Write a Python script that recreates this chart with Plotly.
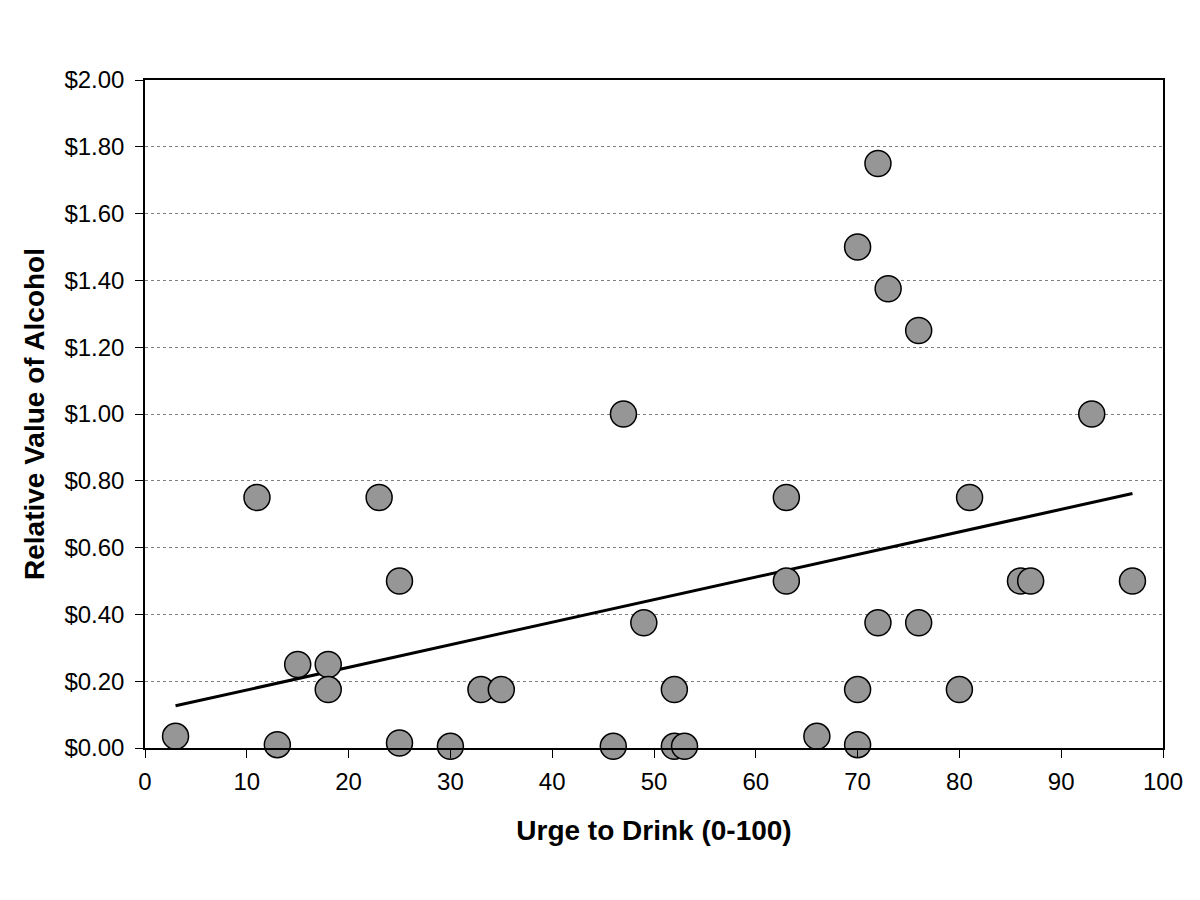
import numpy as np
import plotly.graph_objects as go

urge = [3, 11, 13, 15, 18, 18, 23, 25, 25, 30, 33, 35, 46, 47, 49, 52, 52, 53,
        63, 63, 66, 70, 70, 70, 72, 72, 73, 76, 76, 80, 81, 86, 87, 93, 97]
value = [0.035, 0.75, 0.01, 0.25, 0.25, 0.175, 0.75, 0.50, 0.015, 0.005, 0.175, 0.175,
         0.005, 1.00, 0.375, 0.175, 0.005, 0.005,
         0.75, 0.50, 0.035, 1.50, 0.175, 0.01, 1.75, 0.375, 1.375, 1.25, 0.375,
         0.175, 0.75, 0.50, 0.50, 1.00, 0.50]

slope, intercept = np.polyfit(urge, value, 1)
line_x = [min(urge), max(urge)]
line_y = [slope * v + intercept for v in line_x]

fig = go.Figure()
fig.add_trace(go.Scatter(x=line_x, y=line_y, mode="lines",
                         line=dict(color="black", width=3), hoverinfo="skip"))
fig.add_trace(go.Scatter(x=urge, y=value, mode="markers", cliponaxis=False,
                         marker=dict(size=26, color="#969696",
                                     line=dict(color="black", width=1.5))))

font = "Liberation Sans, Arial, sans-serif"
fig.update_layout(
    width=1200, height=900, showlegend=False,
    plot_bgcolor="white", paper_bgcolor="white",
    margin=dict(l=137, r=45, t=72, b=160),
    font=dict(family=font, size=24, color="black"),
    xaxis=dict(range=[0, 100], dtick=10, showgrid=False, zeroline=False,
               ticks="outside", ticklen=8, tickcolor="black", ticklabelstandoff=3,
               showline=True, linecolor="black", linewidth=1.5, mirror=True,
               title=dict(text="<b>Urge to Drink (0-100)</b>", font=dict(size=28), standoff=27)),
    yaxis=dict(range=[0, 2], dtick=0.2, tickformat="$.2f", showgrid=True,
               gridcolor="#808080", griddash="dot", gridwidth=1, zeroline=False,
               ticks="outside", ticklen=8, tickcolor="black", ticklabelstandoff=6,
               showline=True, linecolor="black", linewidth=1.5, mirror=True,
               title=dict(text="<b>Relative Value of Alcohol</b>", font=dict(size=28), standoff=12)),
)
fig.write_html("out.html")
